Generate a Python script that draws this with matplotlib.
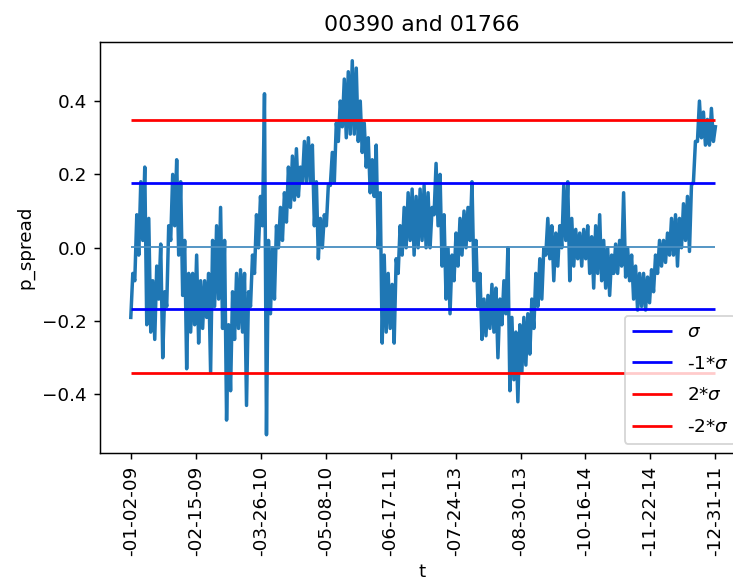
import matplotlib
matplotlib.use("Agg")
import matplotlib.pyplot as plt
import numpy as np

title = "00390 and 01766"
x_label = "t"
y_label = "p_spread"
tick_labels = ["-01-02-09", "-02-15-09", "-03-26-10", "-05-08-10", "-06-17-11",
               "-07-24-13", "-08-30-13", "-10-16-14", "-11-22-14", "-12-31-11"]

# lower / upper envelope of the noisy spread, read column by column
spread_low = [
    -0.19, -0.09, -0.02, 0.02, -0.21, -0.23, -0.25, -0.14, -0.30, -0.16,
    0.02, 0.06, -0.02, -0.13, -0.33, -0.23, -0.21, -0.26, -0.22, -0.19,
    -0.34, -0.16, -0.14, -0.22, -0.47, -0.39, -0.25, -0.22, -0.23, -0.43,
    -0.16, -0.07, 0.00, 0.06, -0.51, -0.18, -0.14, 0.00, 0.02, 0.07,
    0.11, 0.13, 0.14, 0.18, 0.18, 0.18, 0.06, -0.03, 0.00, 0.06,
    0.17, 0.18, 0.29, 0.33, 0.30, 0.31, 0.31, 0.29, 0.26, 0.22,
    0.15, 0.14, 0.00, -0.26, -0.23, -0.22, -0.26, -0.07, -0.02, 0.00,
    0.02, -0.02, 0.00,
    0.02, 0.00, 0.00, 0.09, 0.06, -0.05, -0.14, -0.18, -0.09, -0.05,
    -0.02, 0.00, 0.02, -0.09, -0.16, -0.25, -0.24, -0.22, -0.23, -0.30,
    -0.21, -0.18, -0.39, -0.36, -0.42, -0.34, -0.32, -0.29, -0.22, -0.16,
    -0.14, -0.02, -0.03, -0.09, -0.05, 0.00, 0.02, -0.09, -0.05, -0.03,
    -0.05, -0.03, -0.07, -0.11, -0.07, -0.09, -0.11, -0.13, -0.07, -0.07,
    -0.05, -0.08, -0.09, -0.14, -0.17, -0.16, -0.17, -0.15, -0.12, -0.07,
    -0.05, -0.04, -0.02, -0.02, -0.05, 0.00, 0.02, -0.01, 0.18, 0.29,
    0.30, 0.28, 0.28, 0.29,
]
spread_high = [
    -0.07, 0.09, 0.18, 0.22, 0.08, -0.09, -0.05, 0.01, -0.12, 0.06,
    0.20, 0.24, 0.18, 0.02, -0.07, -0.07, -0.02, -0.09, -0.09, -0.07,
    0.02, 0.06, 0.11, 0.02, -0.21, -0.12, -0.07, -0.06, -0.07, -0.12,
    -0.02, 0.09, 0.14, 0.42, 0.02, 0.00, 0.06, 0.11, 0.15, 0.22,
    0.25, 0.27, 0.22, 0.29, 0.30, 0.28, 0.18, 0.08, 0.09, 0.17,
    0.26, 0.34, 0.40, 0.46, 0.48, 0.51, 0.49, 0.40, 0.34, 0.30,
    0.24, 0.28, 0.15, -0.02, -0.07, -0.10, -0.03, 0.06, 0.11, 0.15,
    0.16, 0.14, 0.16,
    0.17, 0.15, 0.11, 0.23, 0.20, 0.09, 0.00, -0.02, 0.04, 0.08,
    0.10, 0.11, 0.18, 0.02, -0.07, -0.14, -0.13, -0.10, -0.11, -0.14,
    -0.09, 0.00, -0.19, -0.23, -0.21, -0.19, -0.18, -0.14, -0.07, -0.03,
    0.00, 0.08, 0.06, 0.04, 0.06, 0.17, 0.18, 0.08, 0.05, 0.04,
    0.05, 0.06, 0.03, 0.06, 0.09, 0.02, 0.00, -0.02, 0.01, 0.02,
    0.15, 0.00, -0.02, -0.05, -0.07, -0.07, -0.08, -0.06, -0.02, 0.02,
    0.02, 0.04, 0.08, 0.09, 0.08, 0.12, 0.14, 0.17, 0.29, 0.40,
    0.37, 0.35, 0.38, 0.33,
]

mean_level = 0.002
band_levels = [0.177, -0.168, 0.348, -0.341]
band_labels = [r"$\sigma$", r"-1*$\sigma$", r"2*$\sigma$", r"-2*$\sigma$"]
band_colors = ["blue", "blue", "red", "red"]

series = []
for lo, hi in zip(spread_low, spread_high):
    series.append(lo)
    series.append(hi)
n = len(series)
t = np.arange(n)

DPI = 132
fig = plt.figure(figsize=(733 / DPI, 579 / DPI), dpi=DPI)
ax = fig.add_axes([99.5 / 733, 1 - 452.7 / 579, (745 - 99.5) / 733, (452.7 - 41.7) / 579])

ax.plot(t, series, color="#1f77b4", lw=1.9)
ax.hlines(mean_level, 0, n - 1, colors="#4a8fc2", lw=1.0)
handles = []
for lev, lab, col in zip(band_levels, band_labels, band_colors):
    h = ax.hlines(lev, 0, n - 1, colors=col, lw=1.5, label=lab)
    handles.append(h)

ppi = 584.6 / (n - 1)
ax.set_xlim(-(130.8 - 99.5) / ppi, (n - 1) + (745 - 715.4) / ppi)
ax.set_ylim(-0.559, 0.562)
ax.set_xticks(np.linspace(0, n - 1, len(tick_labels)))
ax.set_xticklabels(tick_labels, rotation=90)
ax.set_yticks([-0.4, -0.2, 0.0, 0.2, 0.4])
ax.set_title(title)
ax.set_xlabel(x_label)
ax.set_ylabel(y_label)
ax.legend(handles=handles, loc="lower right", labelspacing=0.75, handlelength=2.2)

fig.savefig("out.png", dpi=DPI)
